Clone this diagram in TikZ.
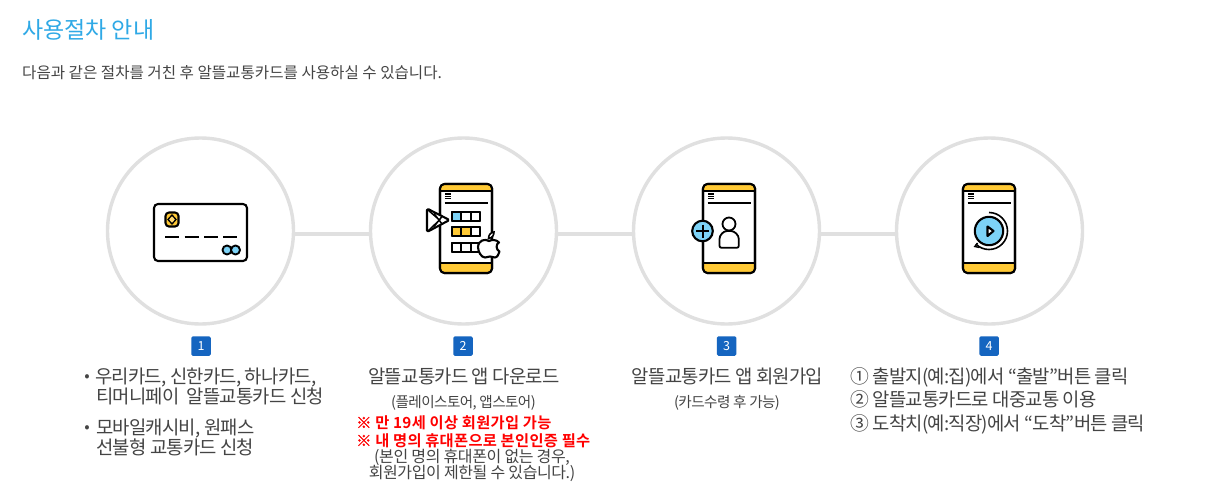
\documentclass[tikz,border=0pt]{standalone}
\usepackage{fontspec}
\setmainfont{Noto Sans CJK KR}
\newfontfamily\tight[LetterSpace=-4]{Noto Sans CJK KR}
\newfontfamily\tighter[LetterSpace=-2.5]{Noto Sans CJK KR}
\newfontfamily\normalk{Noto Sans CJK KR}
\newfontfamily\boldk[LetterSpace=2]{Noto Sans CJK KR Bold}
\newfontfamily\refmark[FakeBold=1.5]{Noto Sans CJK KR Bold}
\newcommand{\warnmark}{{\refmark ※}}
\definecolor{ringgray}{HTML}{E0E0E0}
\definecolor{txtgray}{HTML}{444444}
\definecolor{titleblue}{HTML}{2FA9E6}
\definecolor{badgeblue}{HTML}{1565C0}
\definecolor{iconyellow}{HTML}{FFC935}
\definecolor{iconblue}{HTML}{7DD3F7}
\tikzset{
  ring/.style={circle,draw=ringgray,line width=3.4pt,fill=white,minimum size=186pt,inner sep=0pt},
  link/.style={draw=ringgray,line width=3.2pt},
  badge/.style={rectangle,rounded corners=1.5pt,fill=badgeblue,text=white,minimum width=19.5pt,minimum height=19.5pt,inner sep=0pt,font=\normalk\fontsize{12.5}{12.5}\selectfont},
  big/.style={anchor=mid west,inner sep=0pt,text=txtgray,font=\tight\fontsize{18.8}{18.8}\selectfont},
  bigc/.style={anchor=mid,inner sep=0pt,text=txtgray,font=\tight\fontsize{18.8}{18.8}\selectfont},
  small/.style={anchor=mid,inner sep=0pt,text=txtgray,font=\tight\fontsize{14.6}{14.6}\selectfont},
  note/.style={anchor=mid,inner sep=0pt,text=txtgray,font=\tighter\fontsize{16}{16}\selectfont},
  warn/.style={anchor=mid west,inner sep=0pt,text=red,font=\boldk\fontsize{15.3}{15.3}\selectfont},
  dotmark/.style={anchor=mid,inner sep=0pt,text=txtgray,font=\normalk\fontsize{16}{16}\selectfont},
  ink/.style={draw=black,line width=2.1pt,line join=round},
  thin ink/.style={draw=black,line width=1.5pt}
}
\newcommand{\phoneicon}[1]{%
  \begin{scope}[shift={(#1,0)}]
    \filldraw[ink,fill=white,rounded corners=4.5pt] (0,184) rectangle (52,273);
    \begin{scope}
      \clip[rounded corners=4.5pt] (0,184) rectangle (52,273);
      \fill[iconyellow] (0,184) rectangle (52,190.5);
      \fill[iconyellow] (0,263.5) rectangle (52,273);
    \end{scope}
    \draw[ink,rounded corners=4.5pt] (0,184) rectangle (52,273);
    \draw[ink,line width=1.8pt] (0,190.8) -- (52,190.8) (0,263.3) -- (52,263.3);
    \draw[black,line width=1.3pt] (5,194) -- (10.5,194) (5,196.3) -- (10.5,196.3) (5,198.6) -- (10.5,198.6);
    \draw[black,line width=1.6pt] (4.5,202.8) -- (47.5,202.8);
  \end{scope}}
\begin{document}
\begin{tikzpicture}[x=1pt,y=-1pt]
\useasboundingbox[fill=white] (0,0) rectangle (1205,485);
% header
\node[anchor=mid west,inner sep=0pt,text=titleblue,font=\normalk\fontsize{23}{23}\selectfont] (title) at (22,35.5) {사용절차 안내};
\node[anchor=mid west,inner sep=0pt,text=txtgray,font=\normalk\fontsize{15.6}{15.6}\selectfont] (sub) at (22,76) {다음과 같은 절차를 거친 후 알뜰교통카드를 사용하실 수 있습니다.};
% rings
\node[ring] (c1) at (200.5,231) {};
\node[ring] (c2) at (463.5,231) {};
\node[ring] (c3) at (726.5,231) {};
\node[ring] (c4) at (989.5,231) {};
\draw[link] ([yshift=-3pt]c1.east) -- ([yshift=-3pt]c2.west);
\draw[link] ([yshift=-3pt]c2.east) -- ([yshift=-3pt]c3.west);
\draw[link] ([yshift=-3pt]c3.east) -- ([yshift=-3pt]c4.west);
% card icon
\draw[ink,rounded corners=4pt,fill=white] (154,204) rectangle (247,261);
\filldraw[ink,fill=iconyellow,rounded corners=3.5pt] (165.5,212.5) rectangle (178.5,226.5);
\draw[black,line width=1.3pt,fill=iconyellow!70!white] (172,215) -- (176,219.5) -- (172,224) -- (168,219.5) -- cycle;
\draw[line width=2pt,black] (165.3,237) -- (179.3,237) (184.7,237) -- (198.7,237) (204,237) -- (218,237) (223.3,237) -- (237.3,237);
\filldraw[ink,fill=iconblue,line width=1.9pt] (227,250) circle (4.5);
\filldraw[ink,fill=iconblue,line width=1.9pt] (235.5,250) circle (4.5);
% phone 2
\phoneicon{440}
\foreach \yy in {212,227,243}{
  \draw[ink,line width=1.7pt,fill=white] (452,\yy) rectangle (480,\yy+9);
}
\fill[iconblue] (452,212) rectangle (461.3,221);
\fill[iconyellow] (452,227) rectangle (470.7,236);
\foreach \yy in {212,227,243}{
  \draw[ink,line width=1.7pt] (452,\yy) rectangle (480,\yy+9) (461.3,\yy) -- (461.3,\yy+9) (470.7,\yy) -- (470.7,\yy+9);
}
% play mark
\filldraw[ink,fill=white,rounded corners=1.5pt] (427,208.5) -- (449.5,220) -- (427,232) -- cycle;
\draw[thin ink] (428,210) -- (439.5,220) -- (428,231) (434,226.5) -- (442,216.5) (434,213.5) -- (442,224);
% apple
\filldraw[ink,fill=white] (489,241) .. controls (485,238.5) and (478.5,240) .. (478,247)
  .. controls (478,252) and (481.5,257.5) .. (485,257.5)
  .. controls (487,257.5) and (488,256.5) .. (490,256.5)
  .. controls (492,256.5) and (493,257.5) .. (495,257.5)
  .. controls (497,257.5) and (499,254) .. (499.5,251.5)
  .. controls (496,250) and (495.5,244) .. (499,242.5)
  .. controls (496.5,239.5) and (492,239.5) .. (489,241) -- cycle;
\filldraw[draw=black,line width=1.6pt,fill=white] (488.5,238.5) .. controls (488.5,235) and (490.5,232.5) .. (494,232) .. controls (494,235.5) and (492,238) .. (488.5,238.5) -- cycle;
% phone 3
\phoneicon{703}
\filldraw[ink,fill=iconblue] (702.5,231) circle (10.3);
\draw[black,line width=2pt] (696,231) -- (709,231) (702.5,224.5) -- (702.5,237.5);
\draw[ink,line width=1.8pt,fill=white] (729,224) circle (6.5);
\draw[ink,line width=1.8pt,fill=white,rounded corners=2pt] (719.5,247.8) -- (719.5,241) .. controls (719.5,235) and (723.5,231) .. (729,231) .. controls (734.5,231) and (738.8,235) .. (738.8,241) -- (738.8,247.8) -- cycle;
% phone 4
\phoneicon{963}
\filldraw[ink,fill=iconblue] (989,231) circle (14.2);
\filldraw[ink,fill=white] (987.5,226.5) -- (993.5,231) -- (987.5,236) -- cycle;
\draw[black,line width=1.6pt] (989,212.5) arc[start angle=-90,end angle=135,radius=18.5];
\draw[black,line width=1.4pt] (979.5,247.5) -- (974.8,246.5) -- (977.5,243);
% badges
\node[badge] (b1) at (201,346) {1};
\node[badge] (b2) at (463,346) {2};
\node[badge] (b3) at (726.5,346) {3};
\node[badge] (b4) at (989,346) {4};
% step 1
\node[dotmark] (d1) at (87,379) {•};
\node[big] (t11) at (95,381) {우리카드, 신한카드, 하나카드,};
\node[big] (t12) at (96,401) {티머니페이\ \ 알뜰교통카드 신청};
\node[dotmark] (d2) at (87,430) {•};
\node[big] (t13) at (96,432) {모바일캐시비, 원패스};
\node[big] (t14) at (96,452) {선불형 교통카드 신청};
% step 2
\node[bigc] (t21) at (464,380.5) {알뜰교통카드 앱 다운로드};
\node[small] (t22) at (463.5,404.5) {(플레이스토어, 앱스토어)};
\node[warn] (t23) at (356,425.5) {\warnmark{} 만 19세 이상 회원가입 가능};
\node[warn] (t24) at (356,443.5) {\warnmark{} 내 명의 휴대폰으로 본인인증 필수};
\node[note] (t25) at (472,459.5) {(본인 명의 휴대폰이 없는 경우,};
\node[note] (t26) at (472,475.5) {회원가입이 제한될 수 있습니다.)};
% step 3
\node[bigc] (t31) at (727.5,380.5) {알뜰교통카드 앱 회원가입};
\node[small] (t32) at (727,404.5) {(카드수령 후 가능)};
% step 4
\node[big] (t41) at (850,380.5) {① 출발지(예:집)에서 “출발”버튼 클릭};
\node[big] (t42) at (850,404) {② 알뜰교통카드로 대중교통 이용};
\node[big] (t43) at (850,428) {③ 도착치(예:직장)에서 “도착”버튼 클릭};
\end{tikzpicture}
\end{document}
